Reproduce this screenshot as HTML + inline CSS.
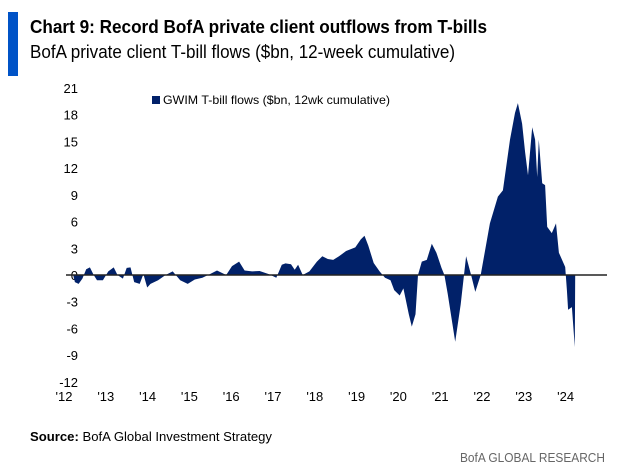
<!DOCTYPE html>
<html><head><meta charset="utf-8">
<style>
html,body{margin:0;padding:0;background:#fff;}
svg{display:block;font-family:"Liberation Sans",sans-serif;}
</style></head>
<body>
<svg id="chart" width="622" height="468" viewBox="0 0 622 468">
  <rect x="8" y="12" width="10" height="64" fill="#0053c7"/>
  <text x="30" y="33" font-size="18" font-weight="bold" fill="#000" textLength="457" lengthAdjust="spacingAndGlyphs">Chart 9: Record BofA private client outflows from T-bills</text>
  <text x="30" y="58" font-size="18" fill="#000" textLength="425" lengthAdjust="spacingAndGlyphs">BofA private client T-bill flows ($bn, 12-week cumulative)</text>
  <rect x="152" y="96" width="8" height="8" fill="#012169"/>
  <text x="163" y="104" font-size="12" fill="#000" textLength="227" lengthAdjust="spacingAndGlyphs">GWIM T-bill flows ($bn, 12wk cumulative)</text>
  <g id="yaxis"></g>
  <g id="xaxis"></g>
  <path id="area" fill="#012169"/>
  <line id="zero" stroke="#222" stroke-width="1.5"/>
  <text x="30" y="441" font-size="13" fill="#000" textLength="242" lengthAdjust="spacingAndGlyphs"><tspan font-weight="bold">Source:</tspan> BofA Global Investment Strategy</text>
  <text x="605" y="462" font-size="13" fill="#666" text-anchor="end" textLength="145" lengthAdjust="spacingAndGlyphs">BofA GLOBAL RESEARCH</text>
</svg>
<script>
const dates=[2012.22,2012.26,2012.35,2012.44,2012.53,2012.62,2012.71,2012.79,2012.93,2013.06,2013.19,2013.28,2013.41,2013.50,2013.59,2013.68,2013.81,2013.90,2013.99,2014.07,2014.25,2014.43,2014.60,2014.78,2014.96,2015.13,2015.31,2015.49,2015.66,2015.88,2016.02,2016.19,2016.32,2016.50,2016.68,2016.90,2017.08,2017.21,2017.30,2017.43,2017.52,2017.60,2017.71,2017.87,2018.05,2018.18,2018.31,2018.44,2018.58,2018.75,2018.97,2019.10,2019.19,2019.28,2019.41,2019.55,2019.68,2019.81,2019.90,2020.03,2020.12,2020.25,2020.32,2020.41,2020.47,2020.56,2020.68,2020.80,2020.91,2021.03,2021.10,2021.18,2021.36,2021.49,2021.62,2021.74,2021.84,2021.97,2022.19,2022.38,2022.50,2022.67,2022.79,2022.86,2022.96,2023.03,2023.10,2023.20,2023.27,2023.32,2023.36,2023.44,2023.51,2023.56,2023.67,2023.77,2023.84,2023.99,2024.03,2024.06,2024.15,2024.22,2024.23];
const values=[0,-0.8,-1.0,-0.4,0.65,0.85,0,-0.6,-0.6,0.4,0.85,0,-0.4,0.8,0.85,-0.8,-1.0,0.1,-1.4,-1.0,-0.6,0,0.4,-0.6,-1.0,-0.5,-0.3,0.1,0.5,0,1.0,1.5,0.5,0.4,0.45,0.1,-0.3,1.15,1.3,1.2,0.6,1.15,0,0.4,1.5,2.1,1.8,1.7,2.1,2.7,3.1,4.0,4.4,3.3,1.35,0.4,-0.3,-0.6,-1.7,-2.3,-1.5,-4.4,-5.8,-4.4,0,1.5,1.7,3.5,2.5,0.8,0,-2.1,-7.5,-3.3,2.1,0,-1.9,0,5.8,8.8,9.5,15.2,18.2,19.3,17,13.8,11.2,16.6,15.2,11,15.2,10.3,10.1,5.4,4.7,5.8,2.5,0.9,-1.7,-3.9,-3.6,-8.1,0];
const yTicks=[21,18,15,12,9,6,3,0,-3,-6,-9,-12];
const xTicks=[2012,2013,2014,2015,2016,2017,2018,2019,2020,2021,2022,2023,2024];
const xTickLabels=["'12","'13","'14","'15","'16","'17","'18","'19","'20","'21","'22","'23","'24"];

const NS='http://www.w3.org/2000/svg';
const X=d=>64+(d-2012)*41.8;
const Y=v=>275-v*(187/21);
const ya=document.getElementById('yaxis'), xa=document.getElementById('xaxis');
yTicks.forEach(t=>{
  const el=document.createElementNS(NS,'text');
  
  
  el.setAttribute('x',78);el.setAttribute('y',Y(t)+5);
  el.setAttribute('text-anchor','end');el.setAttribute('font-size','13');el.setAttribute('fill','#000');
  el.textContent=t;ya.appendChild(el);
});
xTicks.forEach((t,i)=>{
  const el=document.createElementNS(NS,'text');
  
  
  el.setAttribute('x',X(t));el.setAttribute('y',401);
  el.setAttribute('text-anchor','middle');el.setAttribute('font-size','13');el.setAttribute('fill','#000');
  el.textContent=xTickLabels[i];xa.appendChild(el);
});
let d='M'+X(dates[0])+' '+Y(0);
dates.forEach((t,i)=>{d+=' L'+X(t).toFixed(1)+' '+Y(values[i]).toFixed(1);});
d+=' L'+X(dates[dates.length-1])+' '+Y(0)+' Z';
document.getElementById('area').setAttribute('d',d);
const z=document.getElementById('zero');
z.setAttribute('x1',66);z.setAttribute('x2',607);z.setAttribute('y1',Y(0));z.setAttribute('y2',Y(0));
</script>
</body></html>
